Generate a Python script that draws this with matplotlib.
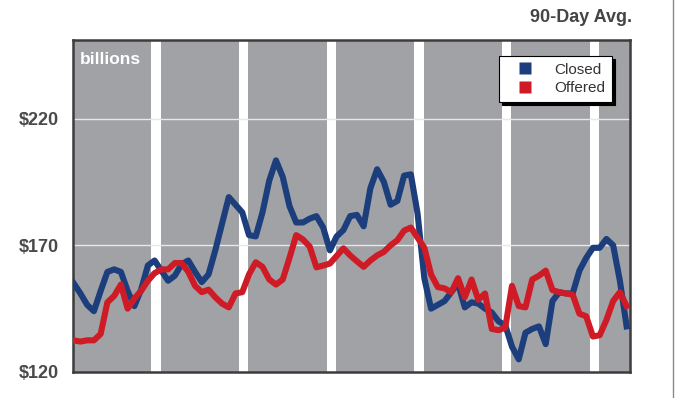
import matplotlib
matplotlib.use("Agg")
import matplotlib.pyplot as plt
from matplotlib.lines import Line2D
import numpy as np

plt.rcParams['font.family'] = ['Liberation Sans', 'DejaVu Sans']

# weekly 90-day averages, in billions of dollars
weeks = list(range(83))
closed = [155, 151, 146.5, 144, 152, 159.5, 160.5, 159.5, 152, 146,
          152.5, 162, 164, 160, 156, 158, 162.5, 164, 159.5, 155.5,
          158.5, 168, 178.5, 189, 186, 183, 174, 173.5, 183, 195.5,
          203.5, 197, 185.5, 179, 179, 180.5, 181.5, 177, 168, 173.5,
          176, 181.5, 182, 177.5, 192.5, 200, 195, 186, 187.5, 197.5,
          198, 182.5, 157, 145, 146.5, 148, 151.5, 155, 145.5, 147.5,
          147, 145, 143.5, 140, 138.5, 130, 125, 135.5, 137, 138,
          131, 148, 151.5, 151, 151, 160, 165, 169, 169, 172.5,
          170, 156, 138]
offered = [132.5, 132, 132.5, 132.5, 135, 147.5, 150, 154.5, 145, 149,
           152, 156, 159, 160.5, 160.5, 163, 163, 159.5, 154, 151.5,
           152.5, 149.5, 147, 145.5, 151, 151.5, 158.5, 163.3, 161.5, 156.5,
           154.5, 156.5, 165, 174, 172.3, 169.5, 161.3, 162, 162.8, 165.8,
           168.8, 166, 163.7, 161.5, 164, 166, 167.4, 170, 172, 175.8,
           177, 173, 169, 158.5, 153.5, 153, 151.5, 157, 149.5, 156.5,
           148.5, 151, 137, 136.5, 137.5, 154, 146, 145.5, 156.5, 158,
           160, 152.3, 151.5, 151, 150.5, 143, 142, 134, 134.5, 140.5,
           148, 151.5, 146]
quarter_ends = [13, 26, 39, 52, 65, 78]
yticks = [120, 170, 220]
ytick_labels = ['$120', '$170', '$220']

blue = '#1d3e7c'
red = '#cf1b26'

fig = plt.figure(figsize=(6.78, 3.98), dpi=100)
ax = fig.add_axes([73/678, 1-372/398, 557/678, 332/398])
ax.set_facecolor('#a0a2a5')

# white gaps between quarters
for q in quarter_ends:
    ax.axvspan(q - 1.5, q - 0.1, color='white', lw=0, zorder=1)

for y in yticks[1:]:
    ax.axhline(y, color='#e8e8e8', lw=1, zorder=1.5)

ax.plot(weeks, closed, color=blue, lw=4.4, zorder=3, solid_joinstyle='round')
ax.plot(weeks, offered, color=red, lw=4.4, zorder=4, solid_joinstyle='round')

ax.set_xlim(-0.1, 82.5)
ax.set_ylim(120, 251)
ax.set_xticks([])
ax.set_yticks(yticks)
ax.set_yticklabels(ytick_labels, fontsize=13, fontweight='bold', color='#4a4a4a')
ax.tick_params(axis='y', length=0, pad=10)
for s in ax.spines.values():
    s.set_color('#3c3c3c')
    s.set_linewidth(1.8)

ax.text(0.013, 0.965, 'billions', transform=ax.transAxes, color='white',
        fontsize=12.5, fontweight='bold', va='top', ha='left', zorder=5)

handles = [Line2D([], [], ls='none', marker='s', ms=8, mfc=blue, mec='none', label='Closed'),
           Line2D([], [], ls='none', marker='s', ms=8, mfc=red, mec='none', label='Offered')]
leg = ax.legend(handles=handles, loc='upper right', bbox_to_anchor=(0.968, 0.952),
                fontsize=11, frameon=True, fancybox=False, shadow={'color': 'black', 'alpha': 1},
                handlelength=2.4, handletextpad=0.75,
                borderpad=0.45, labelspacing=0.3, borderaxespad=0)
leg.get_frame().set_edgecolor('black')
leg.get_frame().set_linewidth(0.8)
leg.set_zorder(6)
for t in leg.get_texts():
    t.set_color('#333333')

fig.text(632/678, 1-18/398, '90-Day Avg.', ha='right', va='center',
         fontsize=13, fontweight='bold', color='#444444')

fig.add_artist(Line2D([673/678, 673/678], [0, 1], color='#8a8a8a', lw=1))

fig.savefig('out.png', dpi=100)
